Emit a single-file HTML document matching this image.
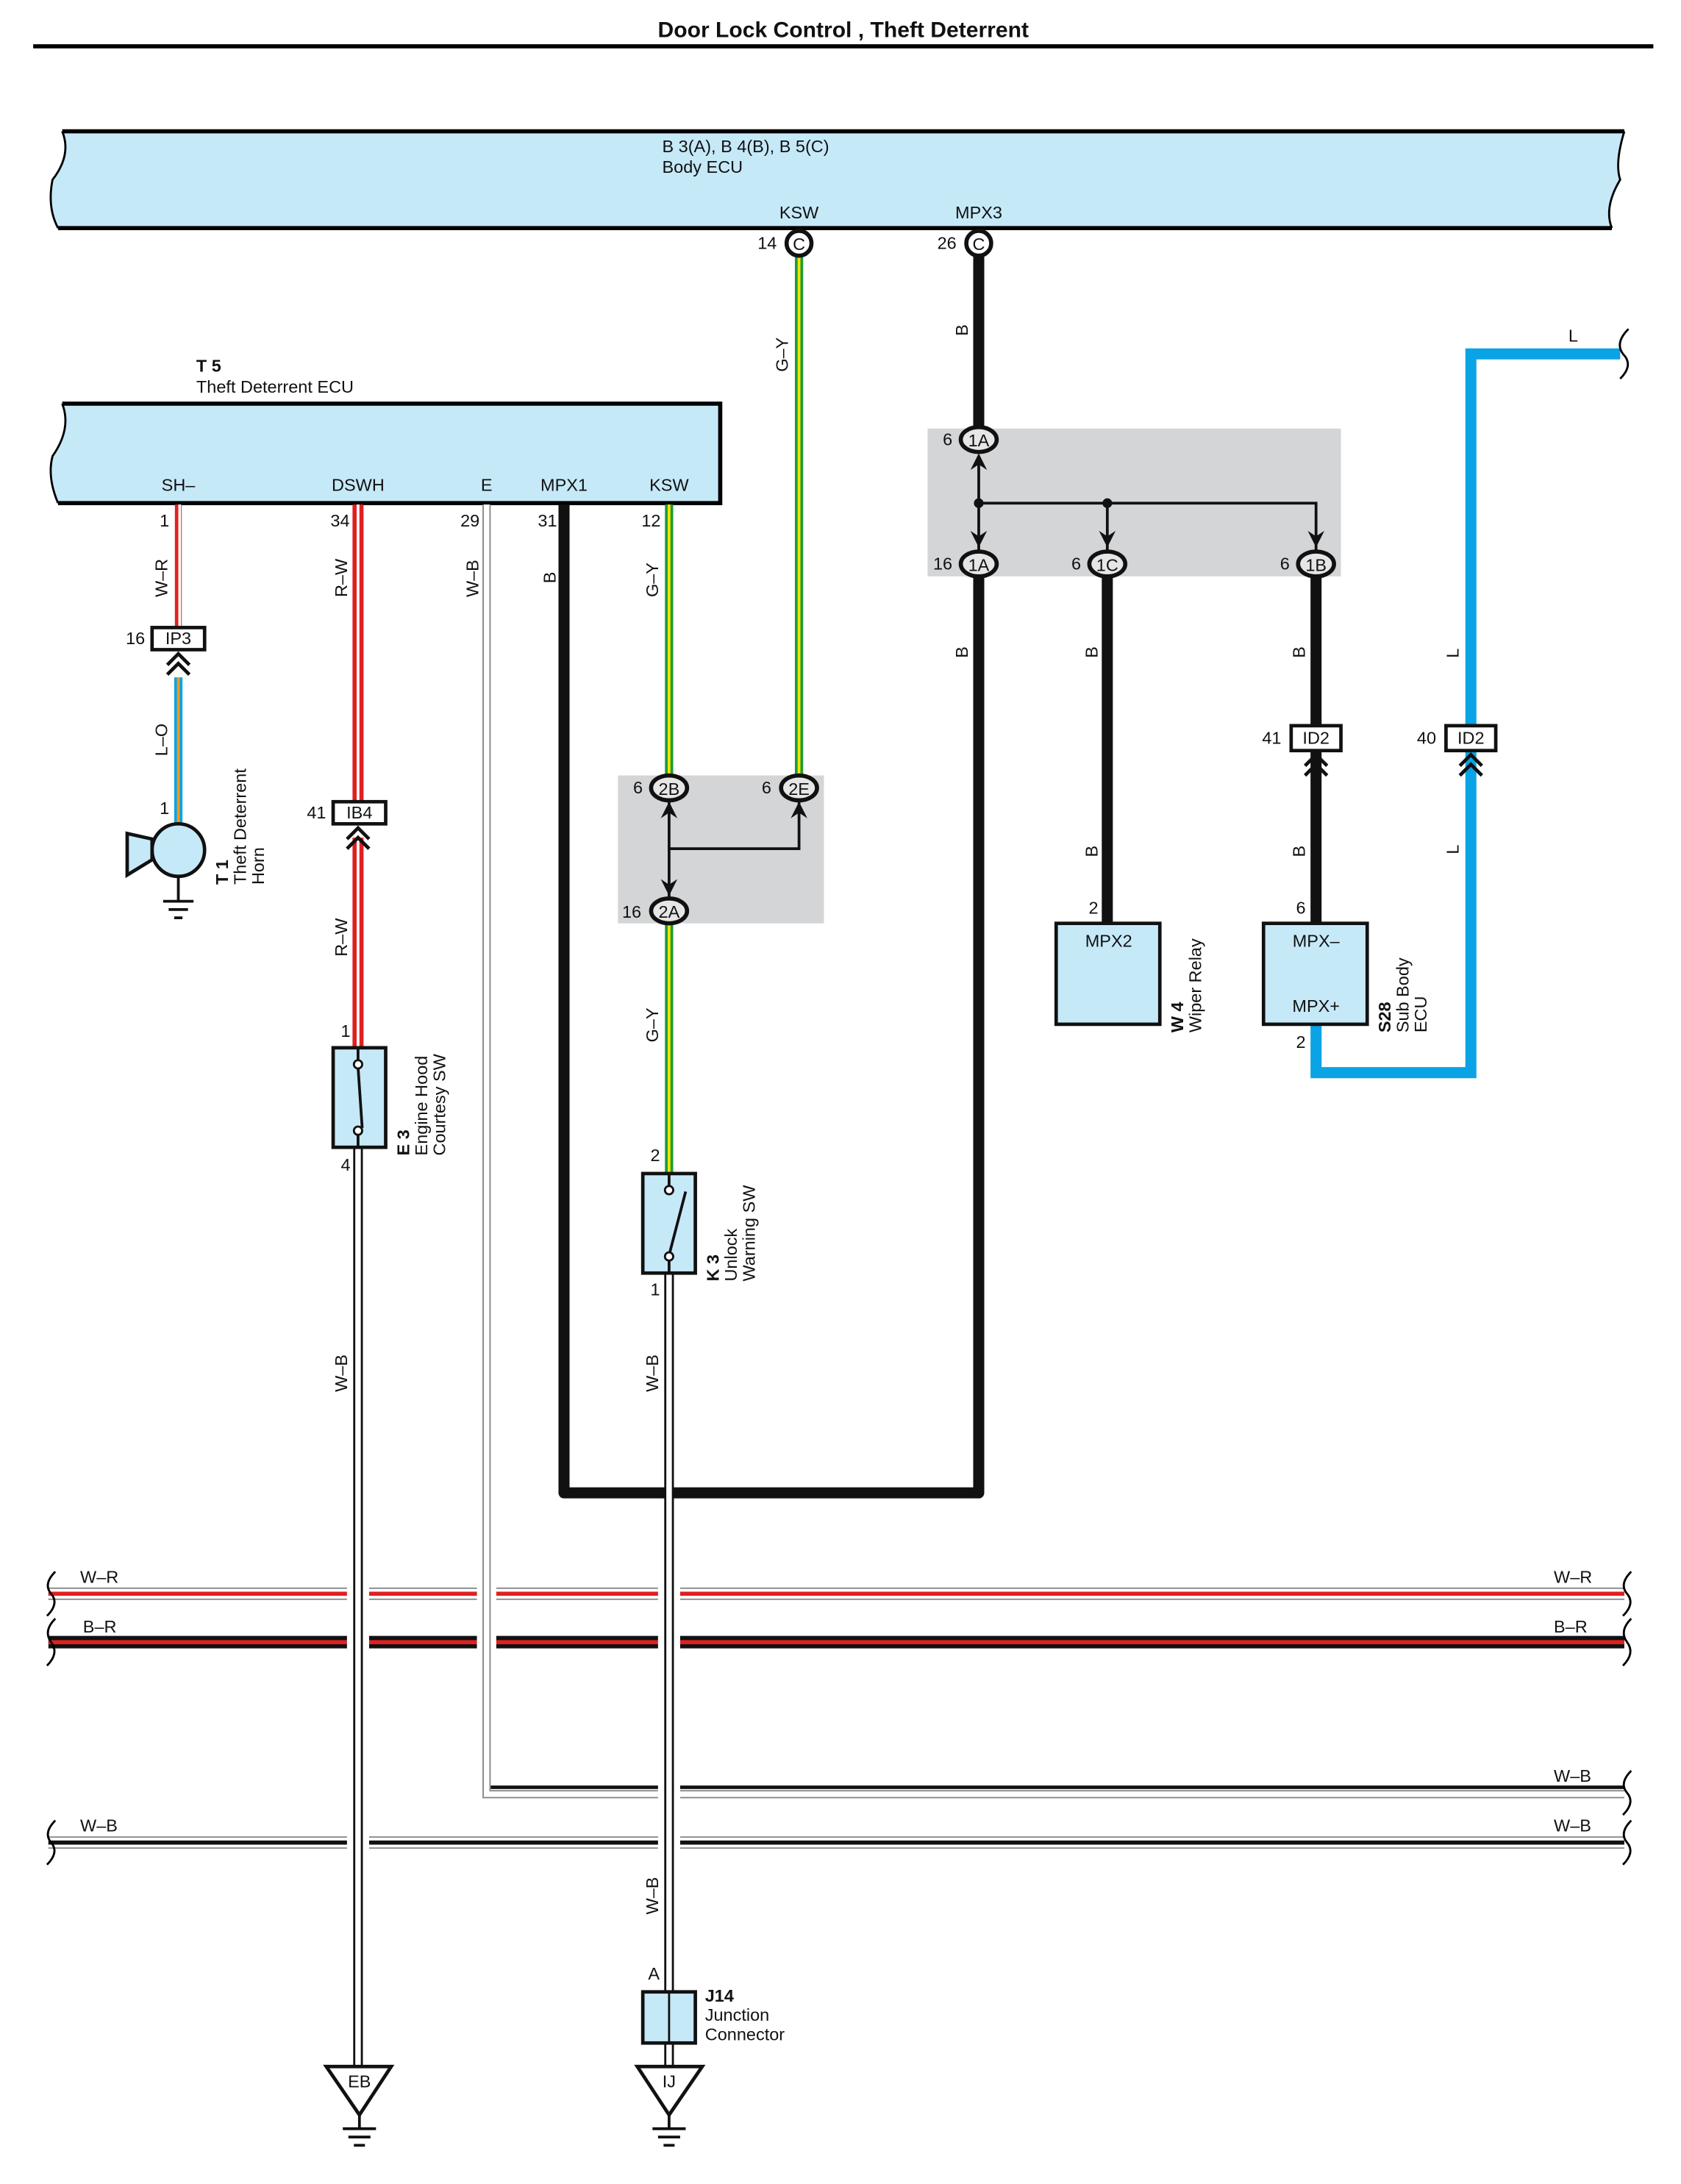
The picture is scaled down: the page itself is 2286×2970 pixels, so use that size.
<!DOCTYPE html>
<html><head><meta charset="utf-8"><style>
html,body{margin:0;padding:0;background:#fff}
svg{display:block}
text{font-family:"Liberation Sans",Arial,sans-serif;font-size:12.5px;fill:#111}
.c{text-anchor:middle}
</style></head><body>
<svg width="2286" height="2970" viewBox="0 0 1216 1580" preserveAspectRatio="none" xmlns="http://www.w3.org/2000/svg">
<text x="610" y="27" class="c" style="font-size:16px;font-weight:bold">Door Lock Control , Theft Deterrent</text>
<rect x="24" y="32" width="1172" height="3" fill="#000"/>

<!-- Body ECU -->
<path d="M45,95 L1175,95 Q1168,118 1172,130 Q1160,150 1166,165 L42,165 Q34,150 38,130 Q52,112 45,95 Z" fill="#c6e9f8"/>
<path d="M45,95 L1175,95 M42,165 L1166,165" stroke="#000" stroke-width="3"/>
<path d="M45,95 Q52,112 38,130 Q34,150 42,165 M1175,95 Q1168,118 1172,130 Q1160,150 1166,165" stroke="#000" stroke-width="1.5" fill="none"/>
<text x="479" y="110">B 3(A), B 4(B), B 5(C)</text>
<text x="479" y="125">Body ECU</text>
<text x="578" y="158" class="c">KSW</text>
<text x="708" y="158" class="c">MPX3</text>

<!-- T5 -->
<text x="142" y="269" style="font-weight:bold">T 5</text>
<text x="142" y="284">Theft Deterrent ECU</text>
<path d="M45,292 L521,292 L521,364 L42,364 Q34,345 38,330 Q52,310 45,292 Z" fill="#c6e9f8"/>
<path d="M45,292 L521,292 L521,364 L42,364" stroke="#000" stroke-width="3" fill="none"/>
<path d="M45,292 Q52,310 38,330 Q34,345 42,364" stroke="#000" stroke-width="1.5" fill="none"/>
<text x="129" y="355" class="c">SH–</text>
<text x="259" y="355" class="c">DSWH</text>
<text x="352" y="355" class="c">E</text>
<text x="408" y="355" class="c">MPX1</text>
<text x="484" y="355" class="c">KSW</text>

<rect x="671" y="310" width="299" height="107" fill="#d3d5d7"/>
<rect x="447" y="561" width="149" height="107" fill="#d3d5d7"/>

<g stroke="#111" stroke-width="8" fill="none" stroke-linejoin="round">
<path d="M708,180 L708,318"/>
<path d="M708,408 L708,1080 L408,1080 L408,365"/>
<path d="M801,408 L801,668"/>
<path d="M952,408 L952,525"/>
<path d="M952,543 L952,668"/>
</g>
<g stroke="#111" stroke-width="2" fill="none">
<path d="M708,330 L708,398 M708,364 L952,364 L952,398 M801,364 L801,398"/>
<path d="M484,580 L484,650 M484,614 L578,614 L578,580"/>
</g>
<g fill="#111">
<circle cx="708" cy="364" r="3.5"/><circle cx="801" cy="364" r="3.5"/>
<path d="M702,340 L708,328 L714,340 L708,336 Z"/>
<path d="M702,384 L708,396 L714,384 L708,388 Z"/>
<path d="M795,384 L801,396 L807,384 L801,388 Z"/>
<path d="M946,384 L952,396 L958,384 L952,388 Z"/>
<path d="M478,592 L484,580 L490,592 L484,588 Z"/>
<path d="M572,592 L578,580 L584,592 L578,588 Z"/>
<path d="M478,636 L484,648 L490,636 L484,640 Z"/>
</g>

<path d="M952,741 L952,776 L1064,776 L1064,543 M1064,525 L1064,256 L1172,256" stroke="#0aa3e6" stroke-width="8" fill="none" stroke-linejoin="miter"/>
<path d="M1178,238 Q1168,248 1174,256 Q1182,264 1172,274" stroke="#000" stroke-width="1.5" fill="none"/>
<text x="1138" y="247" class="c">L</text>

<g fill="none">
<path d="M578,184 L578,561" stroke="#1e9a3c" stroke-width="6"/>
<path d="M578,184 L578,561" stroke="#f2e600" stroke-width="2"/>
<path d="M484,365 L484,561 M484,668 L484,849" stroke="#1e9a3c" stroke-width="6"/>
<path d="M484,365 L484,561 M484,668 L484,849" stroke="#f2e600" stroke-width="2"/>
</g>

<path d="M129,365 L129,454" stroke="#e02020" stroke-width="5" fill="none"/>
<path d="M130,365 L130,454" stroke="#fff" stroke-width="2" fill="none"/>
<path d="M129,490 L129,598" stroke="#0aa3e6" stroke-width="6" fill="none"/>
<path d="M129,490 L129,598" stroke="#f39a1e" stroke-width="2" fill="none"/>
<path d="M259,365 L259,580 M259,606 L259,758" stroke="#e02020" stroke-width="8" fill="none"/>
<path d="M259,365 L259,580 M259,606 L259,758" stroke="#fff" stroke-width="2" fill="none"/>

<!-- Buses -->
<g fill="none">
<path d="M35,1153 L1175,1153" stroke="#888" stroke-width="9"/>
<path d="M35,1153 L1175,1153" stroke="#fff" stroke-width="7"/>
<path d="M35,1153 L1175,1153" stroke="#e02020" stroke-width="3"/>
<path d="M35,1188 L1175,1188" stroke="#111" stroke-width="9"/>
<path d="M35,1188 L1175,1188" stroke="#e02020" stroke-width="3"/>
<path d="M35,1333 L1175,1333" stroke="#888" stroke-width="9"/>
<path d="M35,1333 L1175,1333" stroke="#fff" stroke-width="7"/>
<path d="M35,1333 L1175,1333" stroke="#111" stroke-width="3"/>
</g>
<g fill="#fff">
<rect x="251" y="1145" width="16" height="50"/>
<rect x="345" y="1145" width="14" height="50"/>
<rect x="476" y="1145" width="16" height="50"/>
<rect x="251" y="1325" width="16" height="16"/>
<rect x="476" y="1325" width="16" height="16"/>
</g>
<g fill="none">
<path d="M352,365 L352,1298 L1175,1298" stroke="#888" stroke-width="6"/>
<path d="M352,365 L352,1298 L1175,1298" stroke="#fff" stroke-width="4"/>
<path d="M355,1293 L1175,1293" stroke="#111" stroke-width="2.5"/>
</g>
<rect x="476" y="1288" width="16" height="14" fill="#fff"/>
<g fill="none">
<path d="M259,830 L259,1495" stroke="#111" stroke-width="7"/>
<path d="M259,830 L259,1495" stroke="#fff" stroke-width="4"/>
<path d="M484,921 L484,1441 M484,1478 L484,1495" stroke="#111" stroke-width="7"/>
<path d="M484,921 L484,1441 M484,1478 L484,1495" stroke="#fff" stroke-width="4"/>
</g>

<text x="58" y="1145">W–R</text><text x="1124" y="1145">W–R</text>
<text x="60" y="1181">B–R</text><text x="1124" y="1181">B–R</text>
<text x="1124" y="1289">W–B</text>
<text x="58" y="1325">W–B</text><text x="1124" y="1325">W–B</text>
<g stroke="#000" stroke-width="1.5" fill="none">
<path d="M40,1137 Q31,1146 37,1153 Q43,1160 34,1169"/>
<path d="M40,1171 Q31,1180 37,1188 Q43,1196 34,1205"/>
<path d="M40,1317 Q31,1326 37,1333 Q43,1340 34,1349"/>
<path d="M1180,1137 Q1171,1146 1177,1153 Q1183,1160 1174,1169"/>
<path d="M1180,1171 Q1171,1180 1177,1188 Q1183,1196 1174,1205"/>
<path d="M1180,1281 Q1171,1290 1177,1297 Q1183,1304 1174,1313"/>
<path d="M1180,1317 Q1171,1326 1177,1333 Q1183,1340 1174,1349"/>
</g>

<g stroke="#111" stroke-width="3" fill="#fff">
<ellipse cx="578" cy="176" rx="9" ry="9"/>
<ellipse cx="708" cy="176" rx="9" ry="9"/>
</g>
<g stroke="#111" stroke-width="3" fill="#e6e6e6">
<ellipse cx="708" cy="318" rx="13" ry="9"/>
<ellipse cx="708" cy="408" rx="13" ry="9"/>
<ellipse cx="801" cy="408" rx="13" ry="9"/>
<ellipse cx="952" cy="408" rx="13" ry="9"/>
<ellipse cx="484" cy="570" rx="13" ry="9"/>
<ellipse cx="578" cy="570" rx="13" ry="9"/>
<ellipse cx="484" cy="659" rx="13" ry="9"/>
</g>
<text x="578" y="181" class="c">C</text><text x="708" y="181" class="c">C</text>
<text x="708" y="323" class="c">1A</text><text x="708" y="413" class="c">1A</text>
<text x="801" y="413" class="c">1C</text><text x="952" y="413" class="c">1B</text>
<text x="484" y="575" class="c">2B</text><text x="578" y="575" class="c">2E</text>
<text x="484" y="664" class="c">2A</text>
<text x="548" y="180">14</text><text x="678" y="180">26</text>
<text x="682" y="322">6</text><text x="675" y="412">16</text>
<text x="775" y="412">6</text><text x="926" y="412">6</text>
<text x="458" y="574">6</text><text x="551" y="574">6</text><text x="450" y="664">16</text>

<g stroke="#111" stroke-width="2.5" fill="#fff">
<rect x="110" y="454" width="38" height="16"/>
<rect x="241" y="580" width="38" height="16"/>
<rect x="934" y="525" width="36" height="18"/>
<rect x="1046" y="525" width="36" height="18"/>
</g>
<text x="129" y="466" class="c">IP3</text><text x="91" y="466">16</text>
<text x="260" y="592" class="c">IB4</text><text x="222" y="592">41</text>
<text x="952" y="538" class="c">ID2</text><text x="913" y="538">41</text>
<text x="1064" y="538" class="c">ID2</text><text x="1025" y="538">40</text>
<g stroke="#111" stroke-width="2.5" fill="none">
<path d="M121,481 L129,473 L137,481 M121,488 L129,480 L137,488"/>
<path d="M251,607 L259,599 L267,607 M251,614 L259,606 L267,614"/>
<path d="M944,554 L952,546 L960,554 M944,561 L952,553 L960,561"/>
<path d="M1056,554 L1064,546 L1072,554 M1056,561 L1064,553 L1072,561"/>
</g>

<circle cx="129" cy="615" r="19" fill="#c6e9f8" stroke="#111" stroke-width="2.5"/>
<path d="M110,607 L92,603 L92,633 L110,622 Z" fill="#c6e9f8" stroke="#111" stroke-width="2.5"/>
<path d="M129,634 L129,652 M118,652 L140,652 M122,658 L136,658 M126,664 L132,664" stroke="#111" stroke-width="2"/>
<text x="119" y="589" class="c">1</text>
<g transform="translate(165,640) rotate(-90)"><text x="0" y="0" style="font-weight:bold">T 1</text><text x="0" y="13">Theft Deterrent</text><text x="0" y="26">Horn</text></g>

<rect x="241" y="758" width="38" height="72" fill="#c6e9f8" stroke="#111" stroke-width="2.5"/>
<path d="M259,758 L259,768 M259,820 L259,830 M259,772 L262,816" stroke="#111" stroke-width="2"/>
<circle cx="259" cy="770" r="3" fill="#fff" stroke="#111" stroke-width="1.5"/>
<circle cx="259" cy="818" r="3" fill="#fff" stroke="#111" stroke-width="1.5"/>
<text x="250" y="750" class="c">1</text><text x="250" y="847" class="c">4</text>
<g transform="translate(296,836) rotate(-90)"><text x="0" y="0" style="font-weight:bold">E 3</text><text x="0" y="13">Engine Hood</text><text x="0" y="26">Courtesy SW</text></g>

<rect x="465" y="849" width="38" height="72" fill="#c6e9f8" stroke="#111" stroke-width="2.5"/>
<path d="M484,849 L484,858 M484,912 L484,921 M484,908 L496,862" stroke="#111" stroke-width="2"/>
<circle cx="484" cy="861" r="3" fill="#fff" stroke="#111" stroke-width="1.5"/>
<circle cx="484" cy="909" r="3" fill="#fff" stroke="#111" stroke-width="1.5"/>
<text x="474" y="840" class="c">2</text><text x="474" y="937" class="c">1</text>
<g transform="translate(520,927) rotate(-90)"><text x="0" y="0" style="font-weight:bold">K 3</text><text x="0" y="13">Unlock</text><text x="0" y="26">Warning SW</text></g>

<rect x="764" y="668" width="75" height="73" fill="#c6e9f8" stroke="#111" stroke-width="2.5"/>
<text x="802" y="685" class="c">MPX2</text><text x="791" y="661" class="c">2</text>
<g transform="translate(856,747) rotate(-90)"><text x="0" y="0" style="font-weight:bold">W 4</text><text x="0" y="13">Wiper Relay</text></g>
<rect x="914" y="668" width="75" height="73" fill="#c6e9f8" stroke="#111" stroke-width="2.5"/>
<text x="952" y="685" class="c">MPX–</text><text x="952" y="732" class="c">MPX+</text>
<text x="941" y="661" class="c">6</text><text x="941" y="758" class="c">2</text>
<g transform="translate(1006,747) rotate(-90)"><text x="0" y="0" style="font-weight:bold">S28</text><text x="0" y="13">Sub Body</text><text x="0" y="26">ECU</text></g>

<rect x="465" y="1441" width="38" height="37" fill="#c6e9f8" stroke="#111" stroke-width="2.5"/>
<path d="M484,1441 L484,1478" stroke="#111" stroke-width="1.5"/>
<text x="473" y="1432" class="c">A</text>
<text x="510" y="1448" style="font-weight:bold">J14</text>
<text x="510" y="1462">Junction</text><text x="510" y="1476">Connector</text>

<g stroke="#111" stroke-width="2.5" fill="#fff">
<path d="M236,1495 L283,1495 L260,1530 Z"/>
<path d="M461,1495 L508,1495 L484,1530 Z"/>
</g>
<text x="260" y="1510" class="c">EB</text><text x="484" y="1510" class="c">IJ</text>
<g stroke="#111" stroke-width="2">
<path d="M260,1530 L260,1540 M248,1540 L272,1540 M252,1546 L268,1546 M256,1552 L264,1552"/>
<path d="M484,1530 L484,1540 M472,1540 L496,1540 M476,1546 L492,1546 M480,1552 L488,1552"/>
</g>

<text x="119" y="381" class="c">1</text><text x="246" y="381" class="c">34</text>
<text x="340" y="381" class="c">29</text><text x="396" y="381" class="c">31</text>
<text x="471" y="381" class="c">12</text>

<g>
<text transform="translate(121,432) rotate(-90)">W–R</text>
<text transform="translate(251,432) rotate(-90)">R–W</text>
<text transform="translate(346,432) rotate(-90)">W–B</text>
<text transform="translate(402,422) rotate(-90)">B</text>
<text transform="translate(476,432) rotate(-90)">G–Y</text>
<text transform="translate(570,269) rotate(-90)">G–Y</text>
<text transform="translate(700,243) rotate(-90)">B</text>
<text transform="translate(700,476) rotate(-90)">B</text>
<text transform="translate(794,476) rotate(-90)">B</text>
<text transform="translate(944,476) rotate(-90)">B</text>
<text transform="translate(1055,476) rotate(-90)">L</text>
<text transform="translate(794,620) rotate(-90)">B</text>
<text transform="translate(944,620) rotate(-90)">B</text>
<text transform="translate(1055,618) rotate(-90)">L</text>
<text transform="translate(121,547) rotate(-90)">L–O</text>
<text transform="translate(251,692) rotate(-90)">R–W</text>
<text transform="translate(476,754) rotate(-90)">G–Y</text>
<text transform="translate(251,1007) rotate(-90)">W–B</text>
<text transform="translate(476,1007) rotate(-90)">W–B</text>
<text transform="translate(476,1385) rotate(-90)">W–B</text>
</g>
</svg>
</body></html>
